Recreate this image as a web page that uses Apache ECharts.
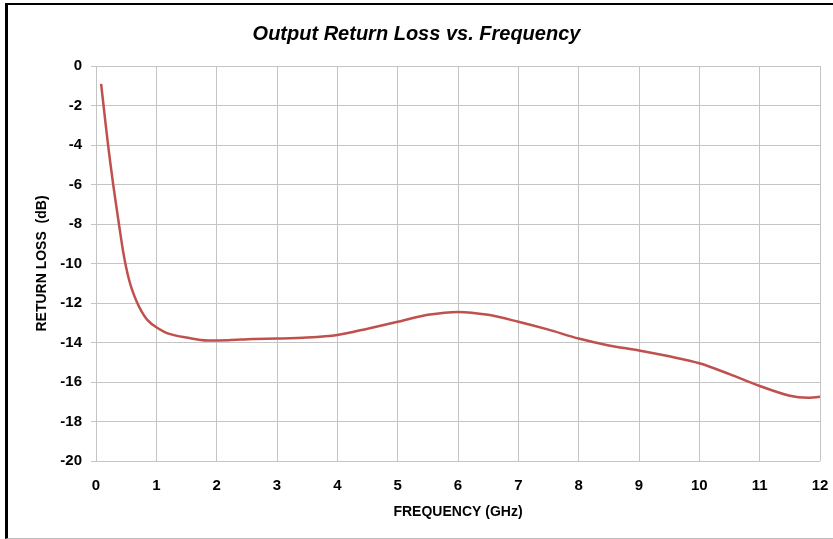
<!DOCTYPE html>
<html><head><meta charset="utf-8">
<script src="https://cdn.jsdelivr.net/npm/echarts@6/dist/echarts.min.js"></script>
<style>
html,body{margin:0;padding:0;background:#fff;}
#frame{position:absolute;left:5px;top:3px;width:840px;height:533px;border-left:3px solid #000;border-top:2px solid #000;border-bottom:1px solid #bbb;}
#c{position:absolute;left:0;top:0;width:833px;height:539px;}
</style></head>
<body>
<div id="frame"></div>
<div id="c"></div>
<script>
const freqGHz = [0.085,0.125,0.2,0.285,0.38,0.45,0.5,0.55,0.6,0.67,0.75,0.85,1.0,1.2,1.5,1.85,2.2,2.6,3.0,3.5,4.0,4.5,5.0,5.5,6.0,6.5,7.0,7.5,8.0,8.5,9.0,9.5,10.0,10.5,11.0,11.5,11.8,12.0];
const returnLossDb = [-0.9,-2,-4,-6,-8,-9.4,-10.2,-10.85,-11.35,-11.9,-12.4,-12.85,-13.23,-13.55,-13.75,-13.9,-13.88,-13.82,-13.8,-13.75,-13.62,-13.3,-12.95,-12.6,-12.45,-12.6,-12.95,-13.35,-13.8,-14.15,-14.4,-14.7,-15.05,-15.6,-16.2,-16.7,-16.8,-16.75];
const titleText = 'Output Return Loss vs. Frequency';
const xName = 'FREQUENCY (GHz)';
const yName = 'RETURN LOSS  (dB)';

const chart = echarts.init(document.getElementById('c'));
const font = 'Liberation Sans';
chart.setOption({
  animation:false,
  title:{text:titleText,left:'center',top:19,textStyle:{fontFamily:font,fontSize:20,fontWeight:'bold',fontStyle:'italic',color:'#000'}},
  grid:{left:96,right:13,top:66,bottom:78},
  xAxis:{type:'value',min:0,max:12,interval:1,name:xName,nameLocation:'middle',nameGap:44,
    nameTextStyle:{fontFamily:font,fontSize:14,fontWeight:'bold',color:'#000'},
    axisLine:{show:false},axisTick:{show:false},
    axisLabel:{fontFamily:font,fontSize:15,fontWeight:'bold',color:'#000',margin:17},
    splitLine:{show:true,lineStyle:{color:'#c4c4c4',width:1}}},
  yAxis:{type:'value',min:-20,max:0,interval:2,name:yName,nameLocation:'middle',nameGap:47,
    nameTextStyle:{fontFamily:font,fontSize:14,fontWeight:'bold',color:'#000'},
    axisLine:{show:false},axisTick:{show:true,length:5,lineStyle:{color:'#c4c4c4'}},
    axisLabel:{fontFamily:font,fontSize:15,fontWeight:'bold',color:'#000',margin:14},
    splitLine:{show:true,lineStyle:{color:'#c4c4c4',width:1}}},
  series:[{type:'line',data:freqGHz.map((f,i)=>[f,returnLossDb[i]]),smooth:0.3,showSymbol:false,
    lineStyle:{color:'#C0504D',width:2.5}}]
});
</script>
</body></html>
